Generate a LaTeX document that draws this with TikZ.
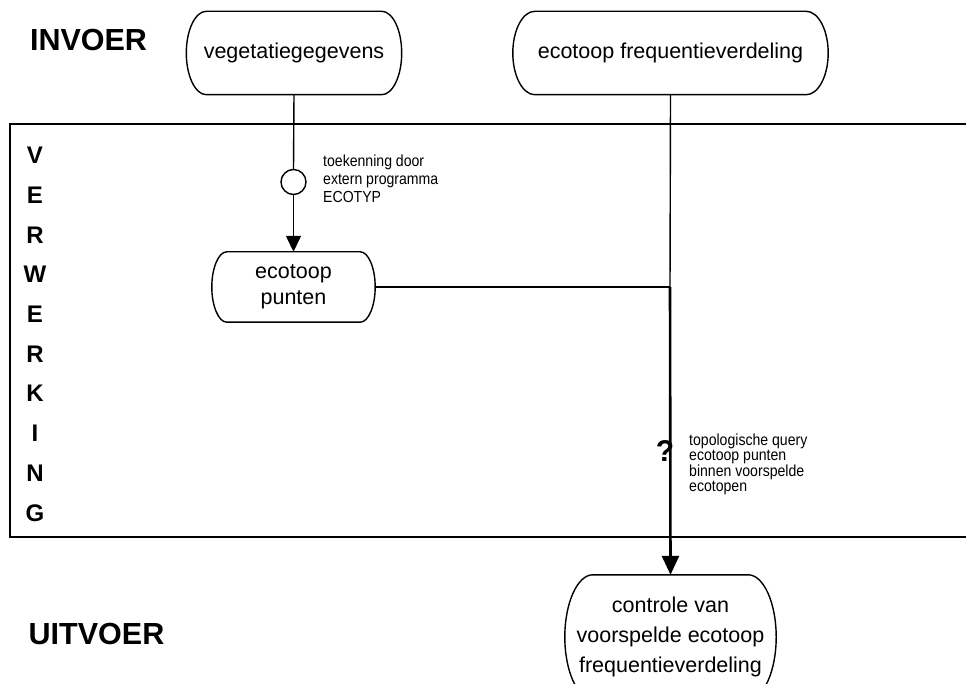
\documentclass[tikz,border=0pt]{standalone}
\usepackage{fontspec}
\setmainfont{Liberation Sans}
\newfontfamily\narrowfont[FakeStretch=0.88]{Liberation Sans}
\usetikzlibrary{arrows.meta}
% outline of a process box: flat top and bottom, bulging rounded ends
% #1 node name, #2 corner inset, #3 vertical reach of the end curve
\newcommand\termoutline[3]{%
  \draw[boxline]
    ([xshift=#2pt]#1.north west) -- ([xshift=-#2pt]#1.north east)
    .. controls ([xshift=-0.45*#2pt]#1.north east) and ([yshift=#3pt]#1.east) .. (#1.east)
    .. controls ([yshift=-#3pt]#1.east) and ([xshift=-0.45*#2pt]#1.south east) .. ([xshift=-#2pt]#1.south east)
    -- ([xshift=#2pt]#1.south west)
    .. controls ([xshift=0.45*#2pt]#1.south west) and ([yshift=-#3pt]#1.west) .. (#1.west)
    .. controls ([yshift=#3pt]#1.west) and ([xshift=0.45*#2pt]#1.north west) .. cycle;}
\begin{document}
\begin{tikzpicture}[x=1pt,y=-1pt,
  proc/.style={rectangle, inner sep=0pt, align=center,
    font=\fontsize{21.5}{30}\selectfont},
  boxline/.style={line width=1.4pt, line join=round},
  flow/.style={line width=1.4pt},
  mainflow/.style={line width=2.6pt},
  tipA/.style={-{Triangle[length=16pt,width=15pt]}},
  tipB/.style={-{Triangle[length=19pt,width=17pt]}},
  heading/.style={font=\fontsize{30.5}{34}\selectfont\bfseries},
  sideletter/.style={font=\fontsize{24}{26}\selectfont\bfseries},
  note/.style={align=left, inner sep=0pt, anchor=north west},
]
\useasboundingbox (0,0) rectangle (966,684);
\clip (0,0) rectangle (966,684);

% processing band
\draw[line width=2pt] (970,124) -- (10,124) -- (10,537) -- (970,537);

% headings
\node[heading] (invoer) at (88.5,40.5) {INVOER};
\node[heading] (uitvoer) at (96.5,633.5) {UITVOER};
\foreach \c [count=\i from 0] in {V,E,R,W,E,R,K,I,N,G}
  \node[sideletter] (side\i) at (35,155.5+39.7*\i) {\c};

% nodes
\node[proc, minimum width=215pt, minimum height=83pt] (veg) at (294,53) {vegetatiegegevens};
\node[proc, minimum width=315pt, minimum height=83pt] (freq) at (670.5,53) {ecotoop frequentieverdeling};
\node[circle, draw, line width=1.4pt, minimum size=25pt, inner sep=0pt] (ext) at (293.5,182) {};
\node[proc, minimum width=163pt, minimum height=70pt, font=\fontsize{21.5}{26}\selectfont] (pts) at (293.5,287) {ecotoop\\punten};
\node[proc, minimum width=211pt, minimum height=124pt] (ctrl) at (670.5,637)
  {controle van\\voorspelde ecotoop\\frequentieverdeling};
\coordinate (join) at (670,287);

\termoutline{veg}{20}{23}
\termoutline{freq}{22}{23}
\termoutline{pts}{15}{19}
\termoutline{ctrl}{28}{34}

% connectors
\draw[flow] (veg.south) -- (ext.north);
\draw[flow, tipA] (ext.south) -- (pts.north);
\draw[flow] (freq.south) -- (join);
\draw[flow] (pts.east) -- (join);
\draw[mainflow, tipB] (join) -- (ctrl.north);

% annotations
\node[note, font=\narrowfont\fontsize{16}{18}\selectfont] (extnote) at (323,155)
  {toekenning door\\extern programma\\ECOTYP};
\node[font=\fontsize{30}{32}\selectfont\bfseries] (qmark) at (665,451) {?};
\node[note, font=\narrowfont\fontsize{16}{14.8}\selectfont] (qnote) at (689,434)
  {topologische query\\ecotoop punten\\binnen voorspelde\\ecotopen};
\end{tikzpicture}
\end{document}
